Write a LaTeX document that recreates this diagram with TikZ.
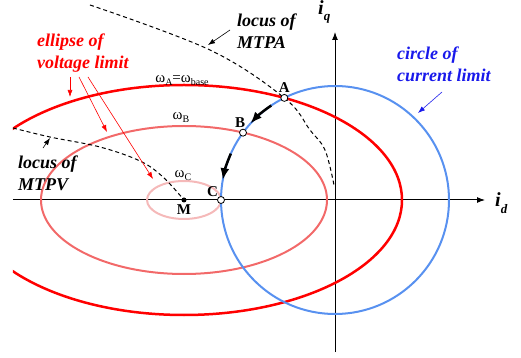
\documentclass[tikz,border=0pt]{standalone}
\usepackage{fontspec}
\setmainfont{Liberation Serif}
\usetikzlibrary{arrows.meta,positioning}
\definecolor{vlimA}{RGB}{255,0,0}
\definecolor{vlimB}{RGB}{242,105,105}
\definecolor{vlimC}{RGB}{245,185,185}
\definecolor{ilim}{RGB}{88,145,240}
\definecolor{ilimtext}{RGB}{25,25,235}
\newcommand{\wsub}[1]{\raisebox{-2.5pt}{\fontsize{10}{10}\selectfont #1}}

\begin{document}
\begin{tikzpicture}[x=1pt, y=1pt,
  lab/.style={font=\fontsize{18}{21.5}\selectfont\bfseries\itshape, align=left,
              anchor=north west, inner sep=0pt},
  wlab/.style={font=\fontsize{15}{15}\selectfont, inner sep=0pt, anchor=base},
  axlab/.style={font=\fontsize{20}{20}\selectfont\bfseries\itshape, inner sep=0pt, anchor=base west},
  pt/.style={circle, draw=black, fill=white, line width=0.8pt, inner sep=0pt, minimum size=7pt},
  ptlab/.style={font=\fontsize{15}{16}\selectfont\bfseries, inner sep=0pt},
  ptr/.style={-{Latex[length=7pt, width=5pt]}, line width=0.6pt},
  move/.style={-{Latex[length=12pt, width=9pt]}, line width=2.5pt},
  locus/.style={line width=1pt, dash pattern=on 4pt off 3pt},
  axis/.style={-{Latex[length=8pt, width=6pt]}, line width=1pt}]
\useasboundingbox (-335,-158) rectangle (186,200);
% axes
\coordinate (O) at (0,0);
\coordinate (dTail) at (-322,0);
\coordinate (dTip) at (150,0);
\coordinate (qTail) at (0,-152);
\coordinate (qTip) at (0,168);
\draw[axis] (dTail) -- (dTip);
\draw[axis] (qTail) -- (qTip);
\node[axlab] (idlab) at (160,-7) {i\raisebox{-7pt}{\fontsize{13}{13}\selectfont d}};
\node[axlab] (iqlab) at (-17,185) {i\raisebox{-6pt}{\fontsize{13}{13}\selectfont q}};
% voltage limit ellipses, cut at the left edge
\begin{scope}
  \clip (-322,-158) rectangle (186,200);
  \draw[vlimA, line width=2.5pt] (-151,0) ellipse[x radius=218, y radius=115];
  \draw[vlimB, line width=2pt] (-151,0) ellipse[x radius=143, y radius=74];
  \draw[vlimC, line width=2pt] (-151,0) ellipse[x radius=37, y radius=19];
\end{scope}
% current limit circle
\draw[ilim, line width=2pt] (O) circle[radius=114];
% MTPA and MTPV loci
\draw[locus] plot[smooth, tension=0.6] coordinates
  {(-245,195) (-125,150) (-50.7,102.1) (-25,70) (-10,50) (-1,15)};
\draw[locus] plot[smooth, tension=0.6] coordinates
  {(-322,72) (-285,63) (-235,53) (-195,39) (-172,23) (-151,0)};
\node[circle, fill=black, inner sep=0pt, minimum size=5pt] (M) at (-151,0) {};
% operating points moving along the circle
\draw[move] (124:114) arc[start angle=124, end angle=138, radius=114];
\draw[move] (156:114) arc[start angle=156, end angle=170, radius=114];
\node[pt] (A) at (116.4:114) {};
\node[pt] (B) at (143.8:114) {};
\node[pt] (C) at (180:114) {};
\node[ptlab, above=1pt of A] (Alab) {A};
\node[ptlab, above=1pt of B, xshift=-3pt] (Blab) {B};
\node[ptlab, above left=0pt of C] (Clab) {C};
\node[ptlab, below=2pt of M] (Mlab) {M};
% speed labels
\node[wlab] (wA) at (-153,117) {ω\wsub{A}=ω\wsub{base}};
\node[wlab] (wB) at (-154,80) {ω\wsub{B}};
\node[wlab] (wC) at (-152,22) {ω\wsub{C}};
% text labels and pointers
\node[lab] (mtpa) at (-98,186) {locus of\\MTPA};
\node[lab] (mtpv) at (-317,44) {locus of\\MTPV};
\node[lab, text=vlimA] (vlim) at (-298,166) {ellipse of\\voltage limit};
\node[lab, text=ilimtext] (ilimlab) at (62,153) {circle of\\current limit};
\coordinate (mtpaTip) at (-127,155);
\coordinate (mtpvTip) at (-285,62);
\coordinate (vTipA) at (-265,103);
\coordinate (vTipB) at (-228,68);
\coordinate (vTipC) at (-182,21);
\coordinate (iTip) at (83,87);
\draw[ptr] (-105,170) -- (mtpaTip);
\draw[ptr] (-292,52) -- (mtpvTip);
\draw[ptr, vlimA] (-265,123) -- (vTipA);
\draw[ptr, vlimA] (-256,123) -- (vTipB);
\draw[ptr, vlimA] (-247,123) -- (vTipC);
\draw[ptr, ilimtext] (107,108) -- (iTip);
\end{tikzpicture}
\end{document}
